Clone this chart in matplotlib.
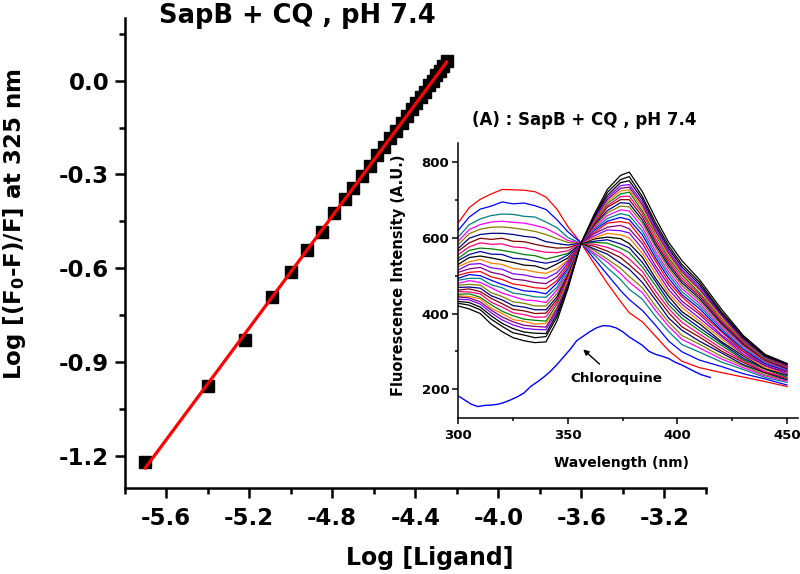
import matplotlib
matplotlib.use("Agg")
import matplotlib.pyplot as plt
import numpy as np
from matplotlib.ticker import MultipleLocator, FuncFormatter

plt.rcParams['font.family'] = ['DejaVu Sans']
plt.rcParams['font.weight'] = 'bold'
plt.rcParams['mathtext.default'] = 'bf'

# ---------------- main plot data ----------------
log_ligand = [-5.70, -5.40, -5.22, -5.09, -5.00, -4.92, -4.85, -4.79, -4.74, -4.70,
              -4.655, -4.617, -4.582, -4.550, -4.520, -4.492, -4.466, -4.441, -4.417,
              -4.395, -4.374, -4.354, -4.334, -4.316, -4.298, -4.281, -4.265, -4.249]
log_quench = [-1.218, -0.976, -0.828, -0.690, -0.613, -0.540, -0.484, -0.424, -0.378, -0.342,
              -0.305, -0.273, -0.238, -0.212, -0.183, -0.160, -0.134, -0.114, -0.090,
              -0.072, -0.051, -0.035, -0.015, 0.000, 0.018, 0.031, 0.048, 0.064]

x_ticks_main = [-5.6, -5.2, -4.8, -4.4, -4.0, -3.6, -3.2]
y_ticks_main = [-1.2, -0.9, -0.6, -0.3, 0.0]

# ---------------- inset data ----------------
wavelength = [300, 305, 310, 315, 320, 325, 330, 335, 340, 345, 350, 356, 362, 368, 374,
              378, 384, 390, 396, 402, 410, 420, 430, 440, 450]
spectra = [
    [640, 680, 702, 716, 728, 727, 726, 722, 708, 676, 630, 586, 532, 480, 432, 402, 378, 340, 302, 274, 257, 244, 232, 220, 207],
    [620, 655, 676, 684, 695, 690, 692, 685, 675, 648, 616, 587, 545, 503, 461, 437, 408, 369, 327, 299, 277, 260, 241, 227, 211],
    [602, 635, 650, 659, 663, 662, 657, 655, 642, 627, 601, 585, 555, 521, 490, 464, 438, 392, 352, 318, 298, 272, 252, 231, 218],
    [591, 622, 635, 642, 644, 641, 639, 633, 625, 610, 593, 586, 560, 536, 506, 483, 455, 408, 366, 332, 309, 280, 257, 235, 221],
    [582, 611, 623, 628, 629, 626, 622, 617, 609, 598, 588, 585, 567, 544, 520, 498, 468, 420, 377, 342, 319, 287, 262, 238, 224],
    [572, 599, 609, 612, 612, 609, 604, 601, 590, 585, 581, 586, 571, 557, 533, 517, 482, 436, 388, 356, 327, 296, 265, 243, 225],
    [565, 587, 599, 596, 599, 591, 590, 583, 577, 573, 574, 585, 578, 565, 548, 529, 498, 447, 402, 365, 338, 301, 271, 244, 229],
    [556, 576, 587, 583, 584, 576, 574, 567, 562, 561, 566, 587, 583, 575, 561, 544, 511, 459, 413, 377, 346, 308, 275, 247, 230],
    [546, 567, 573, 571, 567, 562, 556, 553, 544, 551, 559, 585, 588, 586, 573, 561, 523, 474, 423, 388, 355, 316, 278, 252, 232],
    [540, 556, 564, 557, 556, 546, 544, 538, 533, 539, 555, 586, 591, 595, 584, 574, 535, 485, 433, 397, 363, 322, 282, 254, 236],
    [530, 548, 552, 547, 541, 535, 528, 526, 517, 531, 547, 585, 597, 602, 598, 585, 549, 493, 445, 405, 373, 326, 288, 255, 238],
    [524, 537, 543, 533, 530, 519, 516, 510, 506, 518, 542, 586, 600, 612, 608, 600, 559, 506, 453, 416, 380, 334, 291, 257, 240],
    [515, 530, 532, 521, 517, 505, 502, 496, 493, 508, 538, 587, 605, 621, 619, 613, 571, 517, 463, 425, 388, 340, 293, 262, 241],
    [509, 518, 522, 509, 503, 491, 488, 482, 479, 497, 532, 585, 611, 628, 633, 624, 585, 526, 475, 433, 398, 344, 299, 262, 245],
    [501, 509, 511, 497, 490, 478, 474, 468, 466, 487, 526, 586, 614, 639, 643, 639, 595, 539, 483, 444, 404, 352, 301, 267, 247],
    [493, 503, 500, 488, 477, 468, 460, 458, 452, 480, 519, 585, 620, 644, 654, 648, 608, 547, 493, 450, 413, 355, 306, 267, 249],
    [488, 493, 493, 476, 468, 454, 450, 444, 443, 469, 516, 586, 623, 651, 664, 659, 618, 556, 502, 458, 420, 360, 308, 271, 250],
    [480, 487, 482, 468, 454, 445, 436, 434, 429, 462, 509, 585, 627, 659, 674, 671, 628, 565, 510, 466, 427, 365, 313, 273, 252],
    [475, 477, 475, 455, 445, 431, 427, 420, 420, 452, 506, 586, 631, 666, 684, 682, 639, 575, 519, 474, 434, 370, 316, 275, 254],
    [469, 470, 467, 447, 436, 421, 417, 410, 410, 444, 502, 585, 634, 672, 693, 691, 647, 582, 526, 481, 440, 374, 319, 277, 254],
    [462, 465, 458, 440, 426, 411, 407, 400, 401, 437, 498, 586, 636, 681, 701, 701, 656, 590, 533, 487, 446, 378, 322, 277, 257],
    [458, 457, 452, 430, 417, 402, 397, 390, 391, 431, 492, 585, 641, 685, 709, 710, 665, 598, 540, 494, 451, 382, 324, 279, 258],
    [451, 452, 443, 423, 406, 394, 385, 382, 380, 424, 488, 586, 644, 691, 716, 721, 671, 608, 546, 502, 455, 387, 327, 281, 260],
    [447, 445, 439, 414, 400, 384, 379, 372, 374, 416, 487, 585, 647, 696, 724, 727, 680, 612, 553, 506, 462, 390, 329, 284, 261],
    [444, 441, 431, 409, 391, 378, 369, 366, 364, 412, 481, 586, 649, 701, 731, 734, 687, 618, 559, 511, 465, 395, 330, 285, 261],
    [438, 436, 425, 402, 383, 370, 361, 358, 357, 406, 478, 585, 652, 706, 738, 741, 694, 625, 565, 516, 471, 397, 334, 285, 264],
    [432, 429, 417, 394, 374, 360, 351, 348, 347, 399, 474, 586, 655, 712, 746, 751, 702, 632, 572, 523, 477, 401, 336, 287, 265],
    [427, 422, 410, 385, 366, 349, 343, 336, 339, 391, 470, 585, 657, 720, 754, 762, 709, 640, 579, 530, 483, 405, 339, 289, 267],
    [420, 412, 400, 372, 352, 336, 328, 323, 325, 380, 465, 586, 662, 728, 765, 774, 722, 652, 588, 540, 490, 412, 342, 292, 268],
]
spectrum_colors = ['#FF0000', '#0000FF', '#008080', '#FF00FF', '#808000', '#000080', '#800000',
                   '#FF0080', '#008000', '#0000A0', '#000000', '#FF8000', '#8000FF', '#800080',
                   '#FF0000', '#0000FF', '#008080', '#FF00FF', '#808000', '#000080', '#800000',
                   '#FF0080', '#008000', '#FF8000', '#800080', '#8000FF', '#000000', '#000000',
                   '#000000']

cq_wavelength = [300, 303, 306, 309, 312, 315, 318, 321, 324, 327, 330, 333, 336, 339, 342,
                 345, 348, 351, 354, 357, 360, 363, 366, 369, 372, 375, 378, 381, 384, 387,
                 390, 393, 396, 399, 402, 405, 408, 411, 415]
cq_intensity = [182, 171, 160, 154, 157, 158, 160, 165, 172, 180, 190, 207, 219, 232, 247,
                265, 285, 305, 328, 340, 352, 362, 368, 367, 362, 352, 338, 327, 316, 300,
                292, 287, 281, 271, 264, 255, 246, 238, 231]

# ---------------- figure ----------------
W, H = 800, 574
fig = plt.figure(figsize=(W / 100, H / 100), dpi=100)


def box(x0, y0, x1, y1):
    return [x0 / W, 1 - y1 / H, (x1 - x0) / W, (y1 - y0) / H]


def fxy(x, y):
    return x / W, 1 - y / H


ax = fig.add_axes(box(124.5, 18, 706, 487.5))
ax.set_facecolor('none')
for s in ['top', 'right']:
    ax.spines[s].set_visible(False)
for s in ['left', 'bottom']:
    ax.spines[s].set_linewidth(1.8)

ax.plot(log_ligand, log_quench, 's', color='black', ms=8.5, zorder=3)
coef = np.polyfit(log_ligand, log_quench, 1)
xf = np.array([min(log_ligand), max(log_ligand)])
ax.plot(xf, np.polyval(coef, xf), '-', color='#FF0000', lw=2.3, zorder=4)

ax.set_xlim(-5.8, -3.0)
ax.set_ylim(-1.3, 0.2)
ax.set_xticks(x_ticks_main)
ax.set_yticks(y_ticks_main)
ax.xaxis.set_minor_locator(MultipleLocator(0.2))
ax.yaxis.set_minor_locator(MultipleLocator(0.15))
fmt = FuncFormatter(lambda v, p: ("%.1f" % v).replace("-0.0", "0.0"))
ax.xaxis.set_major_formatter(fmt)
ax.yaxis.set_major_formatter(fmt)
ax.tick_params(which='major', direction='out', length=7, width=1.8, labelsize=16.5, pad=4)
ax.tick_params(axis='x', which='major', pad=7)
ax.tick_params(which='minor', direction='out', length=4.5, width=1.8)
for lab in ax.get_xticklabels() + ax.get_yticklabels():
    lab.set_fontweight('bold')

fig.text(*fxy(297, 16), 'SapB + CQ , pH 7.4', ha='center', va='center',
         fontsize=18.5, fontweight='bold')
fig.text(*fxy(430, 558), 'Log [Ligand]', ha='center', va='center',
         fontsize=17, fontweight='bold')
fig.text(*fxy(15, 224), r'Log [(F$_{0}$-F)/F] at 325 nm', ha='center', va='center',
         rotation=90, fontsize=16.5, fontweight='bold')

# ---------------- inset ----------------
ax2 = fig.add_axes(box(458.3, 143.3, 798, 418.3))
ax2.set_facecolor('none')
for s in ['top', 'right']:
    ax2.spines[s].set_visible(False)
for s in ['left', 'bottom']:
    ax2.spines[s].set_linewidth(1.1)

for vals, col in zip(spectra, spectrum_colors):
    ax2.plot(wavelength, vals, '-', color=col, lw=0.9)
ax2.plot(cq_wavelength, cq_intensity, '-', color='#0000FF', lw=1.0)

ax2.set_xlim(300, 455)
ax2.set_ylim(123, 850)
ax2.xaxis.set_major_locator(MultipleLocator(50))
ax2.xaxis.set_minor_locator(MultipleLocator(25))
ax2.yaxis.set_major_locator(MultipleLocator(200))
ax2.yaxis.set_minor_locator(MultipleLocator(100))
ax2.tick_params(which='major', direction='out', length=4, width=1.1, labelsize=9.5, pad=2.5)
ax2.tick_params(axis='x', which='major', pad=3.5)
ax2.tick_params(which='minor', direction='out', length=2.5, width=1.1)
for lab in ax2.get_xticklabels() + ax2.get_yticklabels():
    lab.set_fontweight('bold')

ax2.annotate('Chloroquine', xy=(357, 305), xytext=(372, 227), textcoords='data',
             ha='center', va='center', fontsize=9.7, fontweight='bold',
             arrowprops=dict(arrowstyle='-|>', color='black', lw=1.0,
                             mutation_scale=8, shrinkA=6, shrinkB=0))

fig.text(*fxy(584.6, 120), '(A) : SapB + CQ , pH 7.4', ha='center', va='center',
         fontsize=12, fontweight='bold')
fig.text(*fxy(399, 275), 'Fluorescence Intensity (A.U.)', ha='center', va='center',
         rotation=90, fontsize=10.5, fontweight='bold')
fig.text(*fxy(622, 463), 'Wavelength (nm)', ha='center', va='center',
         fontsize=10, fontweight='bold')

fig.savefig('out.png', dpi=100)
